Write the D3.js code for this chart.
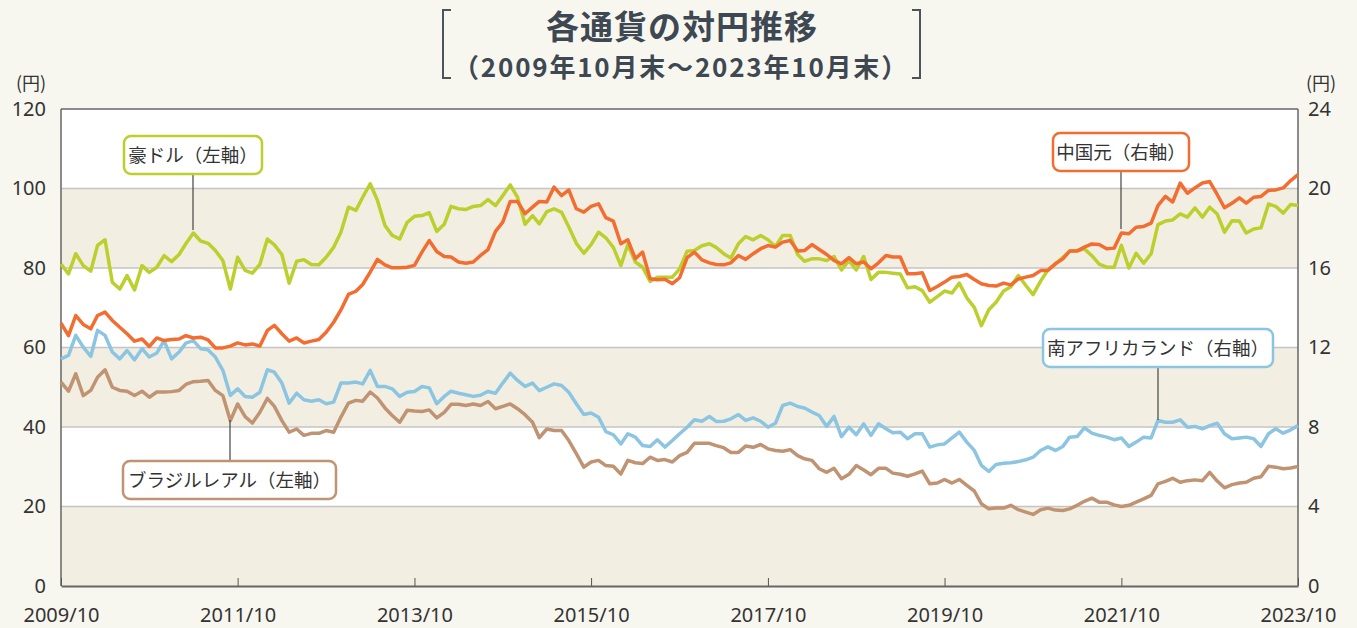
<!DOCTYPE html>
<html>
<head>
<meta charset="utf-8">
<script src="https://cdn.jsdelivr.net/npm/d3@7"></script>
<style>
  body { margin: 0; background: #f8f7ef; }
  svg { display: block; }
  .tick text { font-family: "Noto Sans", sans-serif; fill: #333; }
</style>
</head>
<body>
<div id="chart-area"></div>
<script>
// month-end values, 2009/10 .. 2023/10
var aud = [81.0, 78.5, 83.6, 80.6, 79.2, 85.7, 87.1, 76.4, 74.7, 78.1, 74.5, 80.6, 78.9, 80.2, 83.1, 81.6, 83.4, 86.1, 88.8, 86.8, 86.2, 84.4, 81.9, 74.7, 82.7, 79.4, 78.7, 80.9, 87.3, 85.8, 83.4, 76.2, 81.7, 82.1, 80.9,
  80.8, 82.7, 85.2, 89.0, 95.3, 94.5, 97.8, 101.2, 97.0, 90.7, 88.2, 87.3, 91.5, 93.0, 93.2, 93.9, 89.2, 91.0, 95.5, 94.9, 94.7, 95.5, 95.7, 97.2, 95.7, 98.2, 100.9, 97.8, 91.0, 93.2, 91.1, 94.2, 94.9,
  94.0, 90.3, 86.2, 83.7, 85.9, 89.0, 87.6, 85.2, 80.6, 85.9, 81.5, 80.2, 76.6, 77.7, 77.7, 77.7, 79.8, 84.2, 84.4, 85.6, 86.1, 85.2, 83.6, 82.5, 86.1, 87.9, 87.1, 88.2, 87.1, 85.4, 88.2, 88.2, 83.4, 81.7,
  82.3, 82.3, 81.9, 82.9, 79.5, 81.9, 79.5, 82.9, 77.1, 78.9, 78.9, 78.7, 78.5, 75.0, 75.3, 74.3, 71.4, 72.8, 74.2, 73.7, 76.2, 72.5, 70.1, 65.5, 69.5, 71.4, 74.2, 75.3, 78.1, 75.6, 73.3, 76.7, 79.5,
  81.0, 82.7, 84.2, 84.4, 84.8, 83.1, 81.0, 80.2, 80.2, 85.7, 80.0, 83.7, 81.2, 83.6, 90.9, 91.8, 92.1, 93.6, 92.8, 95.1, 92.8, 95.3, 93.6, 89.0, 91.9, 91.8, 88.8, 89.8, 90.1, 96.1, 95.5, 93.8, 96.0, 95.7];

var brl = [51.3, 49.0, 53.4, 47.9, 49.2, 52.5, 54.4, 50.0, 49.2, 49.0, 47.9, 49.0, 47.5, 48.8, 48.8, 48.9, 49.2, 50.7, 51.4, 51.5, 51.7, 49.2, 47.9, 41.6, 45.8, 42.6, 41.0, 43.7, 47.2, 45.2, 41.6, 38.7, 39.5, 37.9, 38.4,
  38.4, 39.1, 38.7, 42.5, 46.0, 46.7, 46.5, 48.8, 47.3, 44.8, 42.9, 41.2, 44.2, 44.0, 43.9, 44.3, 42.3, 43.7, 45.7, 45.7, 45.4, 45.8, 45.4, 46.4, 44.6, 45.2, 45.8, 44.6, 43.1, 41.2, 37.3, 39.5, 39.1,
  39.1, 36.6, 33.3, 29.9, 31.2, 31.6, 30.3, 30.1, 28.2, 31.6, 31.0, 30.8, 32.4, 31.6, 31.8, 31.2, 32.8, 33.6, 35.9, 35.9, 35.9, 35.3, 34.8, 33.6, 33.6, 35.2, 34.9, 35.6, 34.5, 34.1, 33.9, 34.3, 32.8, 32.0,
  31.6, 29.5, 28.6, 29.6, 27.0, 28.1, 30.3, 29.2, 28.0, 29.6, 29.6, 28.4, 28.1, 27.6, 28.2, 28.9, 25.7, 25.9, 26.8, 25.9, 26.8, 25.3, 23.9, 20.7, 19.4, 19.6, 19.6, 20.3, 19.2, 18.6, 18.0, 19.2, 19.6,
  19.1, 19.0, 19.4, 20.3, 21.3, 22.1, 21.1, 21.1, 20.4, 20.0, 20.3, 21.1, 21.9, 22.8, 25.7, 26.3, 27.1, 26.1, 26.5, 26.7, 26.5, 28.6, 26.4, 24.7, 25.5, 25.9, 26.1, 27.1, 27.5, 30.1, 29.9, 29.5, 29.7, 30.1];

var cny = [13.22, 12.60, 13.61, 13.16, 12.94, 13.61, 13.78, 13.36, 13.02, 12.69, 12.32, 12.43, 12.05, 12.48, 12.35, 12.40, 12.43, 12.60, 12.48, 12.52, 12.38, 11.98, 11.98, 12.07, 12.23, 12.13, 12.18, 12.07, 12.86, 13.11, 12.69, 12.32, 12.48, 12.23, 12.32,
  12.40, 12.77, 13.27, 13.89, 14.67, 14.83, 15.17, 15.79, 16.43, 16.16, 16.01, 16.01, 16.04, 16.13, 16.80, 17.38, 16.83, 16.58, 16.55, 16.30, 16.24, 16.30, 16.63, 16.93, 17.84, 18.31, 19.35, 19.35, 18.73, 19.06, 19.35, 19.32, 20.07,
  19.64, 19.93, 18.98, 18.81, 19.10, 19.23, 18.53, 18.36, 17.22, 17.42, 16.47, 16.80, 15.46, 15.41, 15.43, 15.21, 15.51, 16.52, 16.80, 16.41, 16.26, 16.18, 16.16, 16.26, 16.63, 16.43, 16.72, 16.97, 17.13, 17.05, 17.30, 17.38, 16.85, 16.88,
  17.18, 16.93, 16.68, 16.38, 16.21, 16.52, 16.21, 16.30, 15.96, 16.26, 16.63, 16.55, 16.55, 15.71, 15.71, 15.76, 14.87, 15.07, 15.29, 15.54, 15.57, 15.67, 15.42, 15.21, 15.12, 15.09, 15.24, 15.15, 15.45, 15.54, 15.62, 15.87, 15.88,
  16.21, 16.46, 16.85, 16.85, 17.05, 17.21, 17.18, 16.97, 17.00, 17.76, 17.72, 18.05, 18.09, 18.26, 19.14, 19.60, 19.32, 20.27, 19.76, 20.03, 20.28, 20.35, 19.70, 19.03, 19.26, 19.53, 19.26, 19.56, 19.60, 19.90, 19.93, 20.03, 20.40, 20.70];

var zar = [11.43, 11.60, 12.61, 12.02, 11.55, 12.86, 12.61, 11.77, 11.43, 11.85, 11.38, 11.94, 11.52, 11.72, 12.35, 11.43, 11.77, 12.22, 12.35, 11.94, 11.88, 11.52, 10.85, 9.59, 9.92, 9.54, 9.50, 9.75, 10.88, 10.76, 10.21, 9.20, 9.70, 9.37, 9.30,
  9.37, 9.17, 9.25, 10.21, 10.21, 10.26, 10.17, 10.85, 10.04, 10.04, 9.92, 9.54, 9.75, 9.79, 10.04, 9.97, 9.17, 9.54, 9.80, 9.70, 9.62, 9.54, 9.60, 9.79, 9.70, 10.21, 10.71, 10.34, 10.04, 10.21, 9.83, 10.00, 10.17,
  10.09, 9.75, 9.17, 8.63, 8.70, 8.49, 7.77, 7.61, 7.15, 7.66, 7.49, 7.07, 7.02, 7.36, 6.99, 7.32, 7.66, 7.99, 8.36, 8.29, 8.53, 8.28, 8.29, 8.41, 8.63, 8.33, 8.46, 8.29, 7.99, 8.19, 9.08, 9.20, 9.03, 8.96,
  8.75, 8.58, 8.03, 8.53, 7.52, 7.99, 7.61, 8.16, 7.58, 8.16, 7.91, 7.71, 7.74, 7.41, 7.66, 7.66, 6.99, 7.10, 7.15, 7.45, 7.74, 7.24, 6.82, 6.07, 5.76, 6.11, 6.18, 6.20, 6.26, 6.35, 6.48, 6.82, 7.00,
  6.82, 7.02, 7.49, 7.52, 7.96, 7.69, 7.58, 7.49, 7.36, 7.45, 7.02, 7.24, 7.49, 7.45, 8.33, 8.24, 8.24, 8.36, 7.99, 8.03, 7.91, 8.07, 8.19, 7.66, 7.41, 7.45, 7.49, 7.41, 7.02, 7.66, 7.91, 7.69, 7.86, 8.07];

var leftTicks = [0, 20, 40, 60, 80, 100, 120];
var rightTicks = [0, 4, 8, 12, 16, 20, 24];
var xTickLabels = ["2009/10", "2011/10", "2013/10", "2015/10", "2017/10", "2019/10", "2021/10", "2023/10"];

var width = 1357, height = 628;
var plot = {left: 61, right: 1298, top: 109, bottom: 586};

var months = d3.timeMonth.range(new Date(2009, 9, 1), new Date(2023, 10, 1));

var svg = d3.select('#chart-area')
  .append('svg')
    .attr('width', width)
    .attr('height', height);

var x = d3.scaleTime()
  .domain([months[0], months[months.length - 1]])
  .range([plot.left, plot.right]);
var yL = d3.scaleLinear().domain([0, 120]).range([plot.bottom, plot.top]);
var yR = d3.scaleLinear().domain([0, 24]).range([plot.bottom, plot.top]);

// bands
var bandStarts = [0, 20, 40, 60, 80, 100];
svg.append("g").selectAll("rect")
  .data(bandStarts)
  .enter().append("rect")
    .attr("x", plot.left)
    .attr("width", plot.right - plot.left)
    .attr("y", (d) => yL(d + 20))
    .attr("height", (d) => yL(d) - yL(d + 20))
    .attr("fill", (d, i) => i % 2 == 0 ? "#f2efe2" : "#ffffff");

// grid lines
svg.append("g").selectAll("line")
  .data(leftTicks.slice(1, -1))
  .enter().append("line")
    .attr("x1", plot.left).attr("x2", plot.right)
    .attr("y1", (d) => yL(d)).attr("y2", (d) => yL(d))
    .attr("stroke", "#c4c4c4").attr("stroke-width", 1.5);

// frame
svg.append("line").attr("x1", plot.left).attr("x2", plot.right).attr("y1", plot.top).attr("y2", plot.top)
  .attr("stroke", "#666").attr("stroke-width", 1.5);
svg.append("line").attr("x1", plot.left).attr("x2", plot.left).attr("y1", plot.top).attr("y2", plot.bottom)
  .attr("stroke", "#666").attr("stroke-width", 1.5);
svg.append("line").attr("x1", plot.right).attr("x2", plot.right).attr("y1", plot.top).attr("y2", plot.bottom)
  .attr("stroke", "#666").attr("stroke-width", 1.5);

// axes
var leftAxis = d3.axisLeft(yL).tickValues(leftTicks).tickSize(0).tickPadding(15);
svg.append("g")
  .attr("transform", "translate(" + plot.left + ",0)")
  .call(leftAxis)
  .call((g) => g.select(".domain").remove())
  .selectAll("text").attr("font-size", "20px");

var rightAxis = d3.axisRight(yR).tickValues(rightTicks).tickSize(0).tickPadding(10);
svg.append("g")
  .attr("transform", "translate(" + plot.right + ",0)")
  .call(rightAxis)
  .call((g) => g.select(".domain").remove())
  .selectAll("text").attr("font-size", "20px");

var xTicks = xTickLabels.map((s) => d3.timeParse("%Y/%m")(s));
var bottomAxis = d3.axisBottom(x).tickValues(xTicks)
  .tickFormat(d3.timeFormat("%Y/%m"))
  .tickSizeInner(-8).tickSizeOuter(0).tickPadding(22);
svg.append("g")
  .attr("transform", "translate(0," + plot.bottom + ")")
  .call(bottomAxis)
  .call((g) => g.select(".domain").attr("stroke", "#666").attr("stroke-width", 2))
  .call((g) => g.selectAll(".tick line").attr("stroke", "#555"))
  .selectAll("text").attr("font-size", "20px");

svg.append("text").attr("x", 31).attr("y", 90).attr("text-anchor", "middle")
  .attr("font-family", "Noto Sans CJK JP").attr("font-size", "18px").attr("fill", "#333").text("(円)");
svg.append("text").attr("x", 1321).attr("y", 90).attr("text-anchor", "middle")
  .attr("font-family", "Noto Sans CJK JP").attr("font-size", "18px").attr("fill", "#333").text("(円)");

// lines
var series = [
  {values: brl, y: yL, color: "#c09372"},
  {values: zar, y: yR, color: "#8cc5e1"},
  {values: aud, y: yL, color: "#bccf2c"},
  {values: cny, y: yR, color: "#f36d30"}
];
series.forEach((s) => {
  var line = d3.line()
    .x((d, i) => x(months[i]))
    .y((d) => s.y(d));
  svg.append("path")
    .datum(s.values)
    .attr("d", line)
    .attr("fill", "none")
    .attr("stroke", s.color)
    .attr("stroke-width", 3.5)
    .attr("stroke-linejoin", "round");
});

// callouts
var callouts = [
  {text: "豪ドル（左軸）", color: "#bccf2c", bx: 124, by: 136, bw: 138, bh: 38, lx: 193, ly1: 174, ly2: 230},
  {text: "ブラジルレアル（左軸）", color: "#c09372", bx: 123, by: 461, bw: 213, bh: 38, lx: 230, ly1: 420, ly2: 461},
  {text: "中国元（右軸）", color: "#f36d30", bx: 1053, by: 133, bw: 136, bh: 38, lx: 1121, ly1: 171, ly2: 229},
  {text: "南アフリカランド（右軸）", color: "#8cc5e1", bx: 1043, by: 329, bw: 230, bh: 38, lx: 1158, ly1: 367, ly2: 420}
];
callouts.forEach((c) => {
  svg.append("line").attr("x1", c.lx).attr("x2", c.lx).attr("y1", c.ly1).attr("y2", c.ly2)
    .attr("stroke", "#444").attr("stroke-width", 1.2);
  svg.append("rect").attr("x", c.bx).attr("y", c.by).attr("width", c.bw).attr("height", c.bh)
    .attr("rx", 7).attr("fill", "#fff").attr("stroke", c.color).attr("stroke-width", 2.5);
  svg.append("text").attr("x", c.bx + c.bw / 2).attr("y", c.by + c.bh / 2 + 6.5)
    .attr("text-anchor", "middle")
    .attr("font-family", "Noto Sans CJK JP").attr("font-size", "18.5px").attr("fill", "#333")
    .text(c.text);
});

// title
svg.append("text").attr("x", 682).attr("y", 39).attr("text-anchor", "middle")
  .attr("font-family", "Noto Sans CJK JP").attr("font-weight", "bold").attr("font-size", "33px")
  .attr("letter-spacing", "1px")
  .attr("fill", "#3d4852").text("各通貨の対円推移");
svg.append("text").attr("x", 681).attr("y", 77).attr("text-anchor", "middle")
  .attr("font-family", "Noto Sans CJK JP").attr("font-weight", "bold").attr("font-size", "26px")
  .attr("letter-spacing", "1.8px")
  .attr("fill", "#3d4852").text("（2009年10月末～2023年10月末）");

var bracket = d3.line();
svg.append("path").attr("d", bracket([[451, 10], [443, 10], [443, 78], [451, 78]]))
  .attr("fill", "none").attr("stroke", "#4a545c").attr("stroke-width", 2);
svg.append("path").attr("d", bracket([[912, 10], [920, 10], [920, 78], [912, 78]]))
  .attr("fill", "none").attr("stroke", "#4a545c").attr("stroke-width", 2);
</script>
</body>
</html>
